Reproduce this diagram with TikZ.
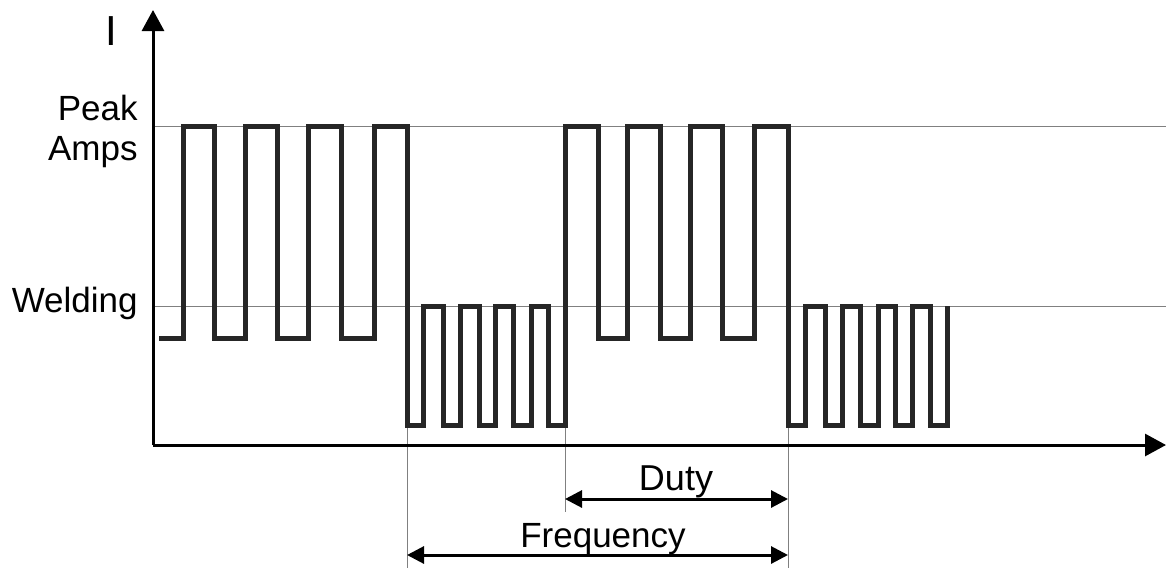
\documentclass[tikz,border=0pt]{standalone}
\usepackage{fontspec}
\setmainfont{Liberation Sans}
\usepackage{tikz}
\usetikzlibrary{arrows.meta}

\begin{document}
\begin{tikzpicture}[x=0.5pt, y=-0.5pt,
    axisline/.style={line width=1.5pt, -{Triangle[length=10.5pt, width=11pt]}},
    levelline/.style={line width=0.4pt, gray},
    wave/.style={line width=2.5pt, black!85},
    dimarrow/.style={line width=1.5pt, {Triangle[length=8.5pt, width=8.5pt]}-{Triangle[length=8.5pt, width=8.5pt]}},
    lbl/.style={font=\fontsize{17.5}{20}\selectfont, inner sep=0pt}]
    \useasboundingbox (0, 0) rectangle (1166, 568);

    \coordinate (origin) at (153, 445);
    \coordinate (ytip) at (153, 10);
    \coordinate (xtip) at (1166, 445);
    \coordinate (peakL) at (153, 126);
    \coordinate (peakR) at (1166, 126);
    \coordinate (weldL) at (153, 306);
    \coordinate (weldR) at (1166, 306);

    % level lines and marks
    \draw[levelline] (peakL) -- (peakR);
    \draw[levelline] (weldL) -- (weldR);
    \coordinate (markA) at (407, 425);
    \coordinate (markAend) at (407, 568);
    \coordinate (markB) at (565, 425);
    \coordinate (markBend) at (565, 512);
    \coordinate (markC) at (788, 425);
    \coordinate (markCend) at (788, 568);
    \draw[levelline] (markA) -- (markAend);
    \draw[levelline] (markB) -- (markBend);
    \draw[levelline] (markC) -- (markCend);

    % axes
    \draw[axisline] (origin) -- (ytip);
    \draw[axisline] (origin) -- (xtip);

    % pulse train
    \draw[wave] (159, 338) -- (183, 338) -- (183, 126) -- (214, 126) -- (214, 338)
        -- (245, 338) -- (245, 126) -- (277, 126) -- (277, 338)
        -- (308, 338) -- (308, 126) -- (341, 126) -- (341, 338)
        -- (374, 338) -- (374, 126) -- (407, 126) -- (407, 425)
        -- (423, 425) -- (423, 306) -- (443, 306) -- (443, 425)
        -- (460, 425) -- (460, 306) -- (479, 306) -- (479, 425)
        -- (495, 425) -- (495, 306) -- (513, 306) -- (513, 425)
        -- (531, 425) -- (531, 306) -- (548, 306) -- (548, 425)
        -- (565, 425) -- (565, 126) -- (598, 126) -- (598, 338)
        -- (627, 338) -- (627, 126) -- (660, 126) -- (660, 338)
        -- (690, 338) -- (690, 126) -- (722, 126) -- (722, 338)
        -- (754, 338) -- (754, 126) -- (788, 126) -- (788, 425)
        -- (805, 425) -- (805, 306) -- (825, 306) -- (825, 425)
        -- (842, 425) -- (842, 306) -- (860, 306) -- (860, 425)
        -- (878, 425) -- (878, 306) -- (895, 306) -- (895, 425)
        -- (912, 425) -- (912, 306) -- (930, 306) -- (930, 425)
        -- (947, 425) -- (947, 306);

    % labels
    \node[lbl, font=\fontsize{21}{22}\selectfont] at (111, 31) (ilabel) {I};
    \node[lbl, anchor=east, align=right] at (138, 131) (peak) {Peak\\Amps};
    \node[lbl, anchor=east] at (138, 303) (welding) {Welding};

    % duty and frequency
    \coordinate (dutyL) at (565, 499);
    \coordinate (dutyR) at (788, 499);
    \coordinate (freqL) at (407, 555);
    \coordinate (freqR) at (788, 555);
    \draw[dimarrow] (dutyL) -- (dutyR);
    \draw[dimarrow] (freqL) -- (freqR);
    \node[lbl, font=\fontsize{18}{20}\selectfont] at (676, 482) (duty) {Duty};
    \node[lbl] at (603, 539) (freq) {Frequency};
\end{tikzpicture}
\end{document}
